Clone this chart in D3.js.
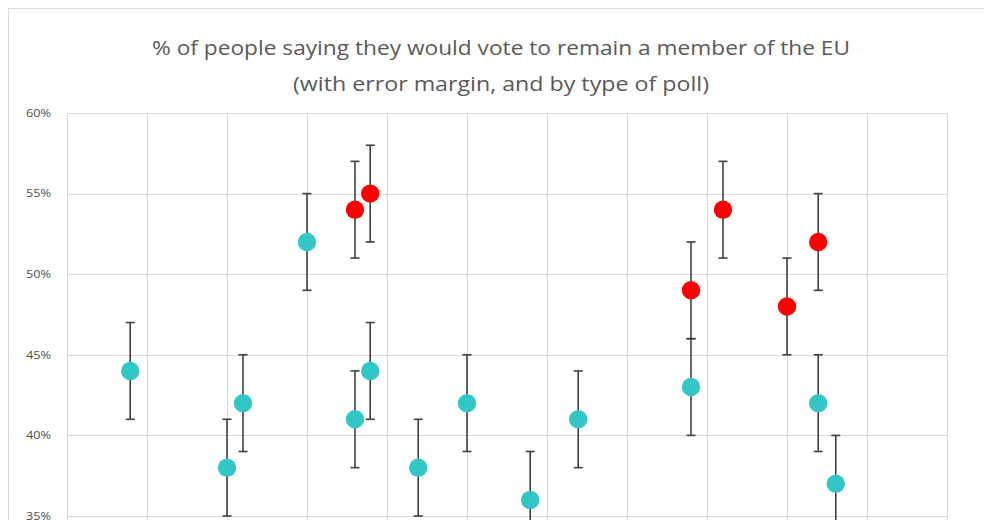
<!DOCTYPE html>
<html>
<head>
<meta charset="utf-8">
<script src="https://cdn.jsdelivr.net/npm/d3@7"></script>
<style>
body { margin: 0; background: #fff; }
svg { display: block; }
</style>
</head>
<body>
<svg id="chart" width="984" height="520"></svg>
<script>
// poll position along the x axis (grid units), share saying remain, margin, poll type
var pollX = [0.79, 2.0, 2.2, 3.0, 3.6, 3.79, 3.6, 3.79, 4.39, 5.0, 5.79, 6.39, 7.8, 7.8, 8.2, 9.0, 9.39, 9.39, 9.61]
var remain = [44, 38, 42, 52, 54, 55, 41, 44, 38, 42, 36, 41, 49, 43, 54, 48, 52, 42, 37]
var margin = [3, 3, 3, 3, 3, 3, 3, 3, 3, 3, 3, 3, 3, 3, 3, 3, 3, 3, 3]
var pollType = ["online", "online", "online", "online", "phone", "phone", "online", "online", "online", "online", "online", "online", "phone", "online", "phone", "phone", "phone", "online", "online"]
var yTicks = [35, 40, 45, 50, 55, 60]
var titleLines = ["% of people saying they would vote to remain a member of the EU", "(with error margin, and by type of poll)"]

var chart = {
	left: 67,
	right: 947,
	top: 113,
	unit: 80.6,
	font: "'Open Sans', sans-serif",
	grid: "#d9d9d9",
	text: "#595959"
}

var svg = d3.select("#chart")

// outer chart frame (runs off the picture to the right and bottom)
svg.append("rect")
	.attr("x", 8.5)
	.attr("y", 8.5)
	.attr("width", 1100)
	.attr("height", 700)
	.attr("fill", "#fff")
	.attr("stroke", chart.grid)

var x = d3.scaleLinear()
	.domain([0, 11])
	.range([chart.left, chart.right])

var y = d3.scaleLinear()
	.domain([30, 60])
	.range([chart.top + 6*chart.unit, chart.top])

var fill = d3.scaleOrdinal()
	.domain(["online", "phone"])
	.range(["#33c6c6", "#ff0000"])

// gridlines
svg.append("g")
	.selectAll("line")
	.data(d3.range(0, 12))
	.enter()
	.append("line")
	.attr("x1", function(d){ return Math.round(x(d)) + .5 })
	.attr("x2", function(d){ return Math.round(x(d)) + .5 })
	.attr("y1", y(60))
	.attr("y2", y(30))
	.attr("stroke", chart.grid)

svg.append("g")
	.selectAll("line")
	.data(yTicks)
	.enter()
	.append("line")
	.attr("x1", x(0))
	.attr("x2", x(11))
	.attr("y1", function(d){ return Math.round(y(d)) + .5 })
	.attr("y2", function(d){ return Math.round(y(d)) + .5 })
	.attr("stroke", chart.grid)

// y axis labels
var yAxis = d3.axisLeft(y)
	.tickValues(yTicks)
	.tickSize(0)
	.tickPadding(16)
	.tickFormat(function(d){ return d + "%" })

svg.append("g")
	.attr("transform", "translate(" + x(0) + ",0)")
	.call(yAxis)
	.call(function(g){
		g.select(".domain").remove()
		g.selectAll("text")
			.attr("fill", "#4d4d4d")
			.style("font-family", chart.font)
			.style("font-size", "10.5px")
			.attr("textLength", 25)
			.attr("lengthAdjust", "spacingAndGlyphs")
	})

// title
svg.append("g")
	.selectAll("text")
	.data(titleLines)
	.enter()
	.append("text")
	.attr("x", 501)
	.attr("y", function(d,i){ return 55 + i*36 })
	.attr("text-anchor", "middle")
	.attr("fill", chart.text)
	.style("font-family", chart.font)
	.style("font-size", "20.5px")
	.attr("textLength", function(d,i){ return i == 0 ? 698 : 416 })
	.attr("lengthAdjust", "spacingAndGlyphs")
	.text(function(d){ return d })

// error bars
var bars = svg.append("g")
	.selectAll("g")
	.data(remain)
	.enter()
	.append("g")
	.attr("stroke", "#404040")
	.attr("stroke-width", 1.6)

bars.append("line")
	.attr("x1", function(d,i){ return x(pollX[i]) })
	.attr("x2", function(d,i){ return x(pollX[i]) })
	.attr("y1", function(d,i){ return y(d + margin[i]) })
	.attr("y2", function(d,i){ return y(d - margin[i]) })

bars.selectAll("line.cap")
	.data(function(d,i){ return [[i, d + margin[i]], [i, d - margin[i]]] })
	.enter()
	.append("line")
	.attr("class", "cap")
	.attr("x1", function(d){ return x(pollX[d[0]]) - 4.5 })
	.attr("x2", function(d){ return x(pollX[d[0]]) + 4.5 })
	.attr("y1", function(d){ return y(d[1]) })
	.attr("y2", function(d){ return y(d[1]) })

// markers
svg.append("g")
	.selectAll("circle")
	.data(remain)
	.enter()
	.append("circle")
	.attr("cx", function(d,i){ return x(pollX[i]) })
	.attr("cy", function(d){ return y(d) })
	.attr("r", 9.2)
	.attr("fill", function(d,i){ return fill(pollType[i]) })
</script>
</body>
</html>
